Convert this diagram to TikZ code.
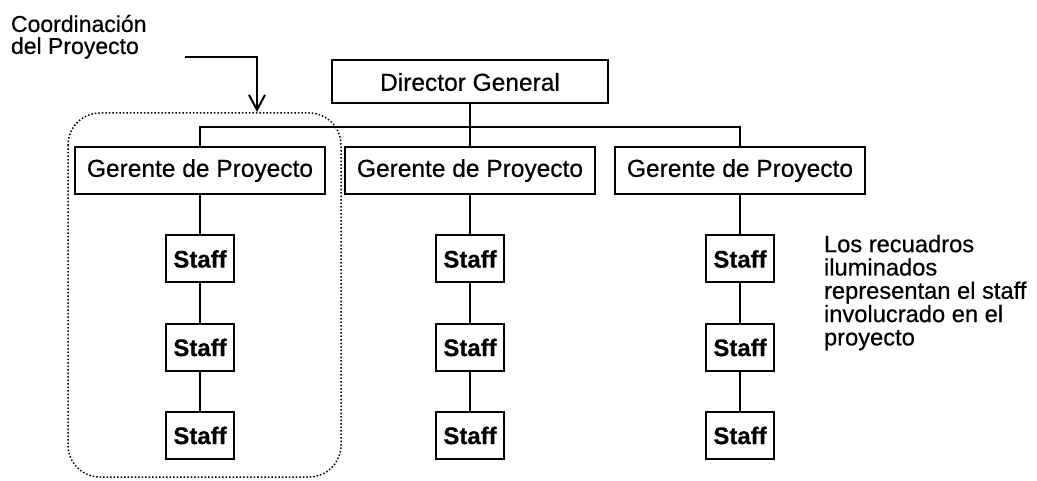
\documentclass[tikz,border=0pt]{standalone}
\usepackage{fontspec}
\setmainfont[FakeBold=0.4]{Liberation Sans}
\newfontfamily\heavysans[FakeBold=0.5]{Liberation Sans}
\usetikzlibrary{arrows.meta}
\begin{document}
\begin{tikzpicture}[x=1pt,y=-1pt,
  line width=2pt,
  box/.style={draw, inner sep=0pt, font=\heavysans\fontsize{24.5}{24}\selectfont},
  gerente/.style={box, minimum width=250pt, minimum height=47pt},
  staffbox/.style={box, minimum width=68pt, minimum height=47pt, font=\fontsize{24}{24}\selectfont\bfseries},
  note/.style={inner sep=0pt, align=left, anchor=north west}
]
\useasboundingbox (0,0) rectangle (1037,481);

% project coordination frame
\draw[line width=1.5pt, dotted, rounded corners=32pt] (68,113) rectangle (341,477);

% top of the hierarchy
\node[box, minimum width=276pt, minimum height=43pt] (dir) at (470,82) {Director General};

% project managers
\node[gerente] (g1) at (200,170.5) {Gerente de Proyecto};
\node[gerente] (g2) at (470,170.5) {Gerente de Proyecto};
\node[gerente] (g3) at (740,170.5) {Gerente de Proyecto};

% staff columns
\foreach \c/\x in {1/200,2/470,3/740}{
  \node[staffbox] (s\c1) at (\x,259) {Staff};
  \node[staffbox] (s\c2) at (\x,347.5) {Staff};
  \node[staffbox] (s\c3) at (\x,435.5) {Staff};
}

% reporting lines
\coordinate (bar) at (470,127);
\draw (dir.south) -- (g2.north);
\draw (g1.north) |- (bar) -| (g3.north);
\foreach \c in {1,2,3}{
  \draw (g\c.south) -- (s\c1.north);
  \draw (s\c1.south) -- (s\c2.north);
  \draw (s\c2.south) -- (s\c3.north);
}

% labels
\node[note, font=\heavysans\fontsize{23}{22}\selectfont] (coord) at (10,14) {Coordinación\\del Proyecto};
\node[note, font=\heavysans\fontsize{23.7}{23.3}\selectfont] (nota) at (823,234)
  {Los recuadros\\iluminados\\representan el staff\\involucrado en el\\proyecto};

% pointer to the coordination frame
\coordinate (a0) at (185,57);
\coordinate (a1) at (257,112);
\draw[-{Straight Barb[length=15pt,width=16pt]}] (a0) -| (a1);
\end{tikzpicture}
\end{document}
